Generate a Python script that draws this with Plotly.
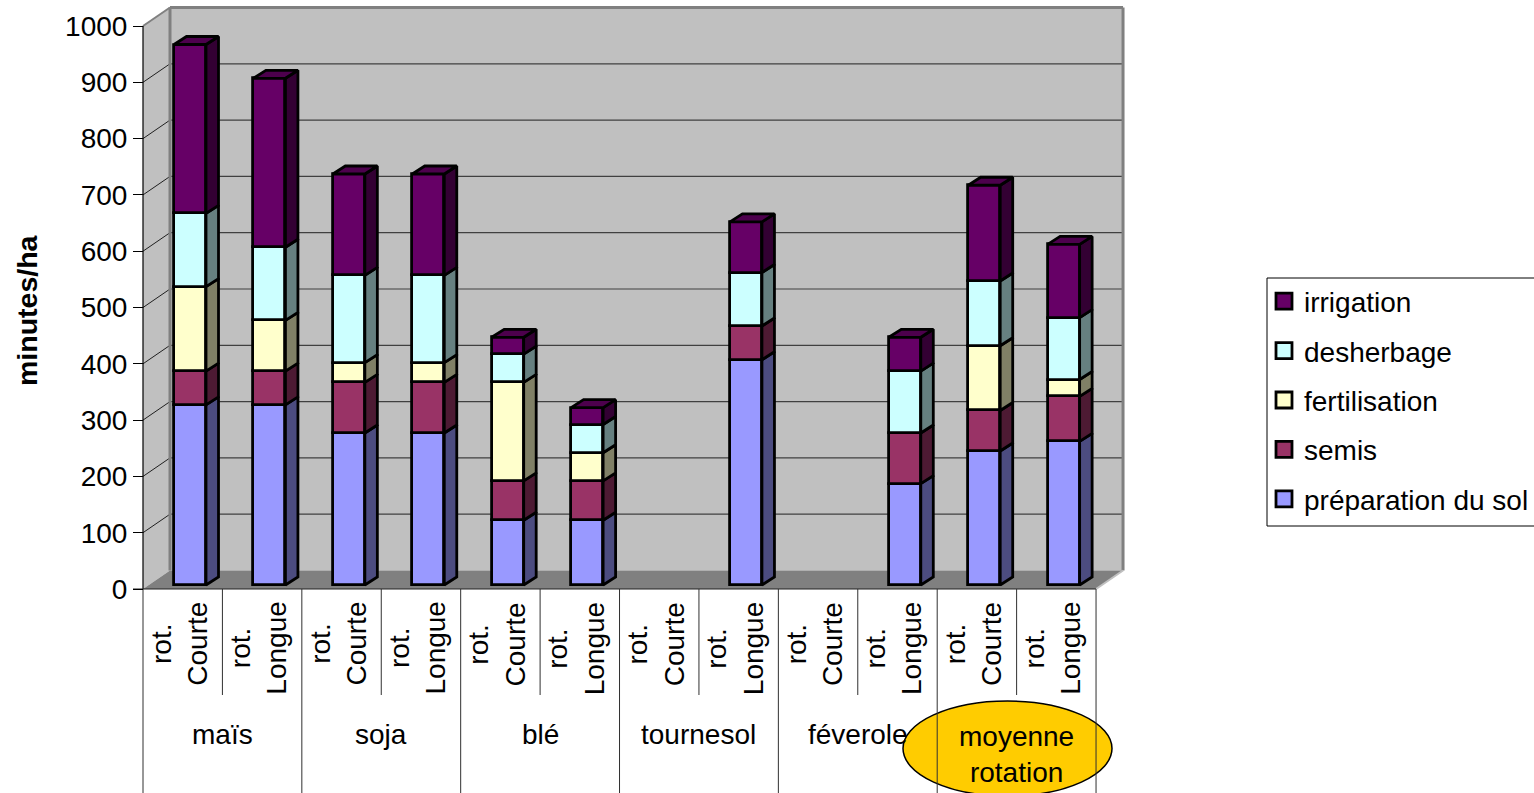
import plotly.graph_objects as go

# Chart data
groups = ["maïs", "soja", "blé", "tournesol", "féverole", "moyenne<br>rotation"]
rotations = ["rot.<br>Courte", "rot.<br>Longue"]
preparation = [320, 320, 270, 270, 115, 115, 0, 400, 0, 180, 238, 255]
semis = [60, 60, 90, 90, 70, 70, 0, 60, 0, 90, 72, 80]
fertilisation = [150, 90, 35, 35, 175, 50, 0, 0, 0, 0, 115, 30]
desherbage = [130, 130, 155, 155, 50, 50, 0, 95, 0, 110, 115, 110]
irrigation = [300, 300, 180, 180, 30, 30, 0, 90, 0, 60, 170, 130]

series = [
    ("préparation du sol", preparation, "#9999ff", "#4c4c80"),
    ("semis", semis, "#993366", "#4d1a33"),
    ("fertilisation", fertilisation, "#ffffcc", "#808066"),
    ("desherbage", desherbage, "#ccffff", "#668080"),
    ("irrigation", irrigation, "#660066", "#330033"),
]

# Page and axis calibration
W, H = 1534, 793
X0, X_STEP = 143.0, 79.42
Y0, Y_STEP = 589.0, 0.563
N = len(preparation)
FONT = "Liberation Sans, Arial, sans-serif"
SIZE = 28
EDGE = 2.8


def vx(px):
    return (px - X0) / X_STEP


def vy(px):
    return (Y0 - px) / Y_STEP


# Oblique depth of the chart box and of each column
BOX_DX, BOX_DY = 27 / X_STEP, 18.5 / Y_STEP
BAR_DX, BAR_DY = 12.5 / X_STEP, 8 / Y_STEP
BAR_W = 32 / X_STEP
BAR_SHIFT = 7.3 / X_STEP
BAR_LIFT = 4 / Y_STEP
TICKS = list(range(0, 1001, 100))
centers = [i + 0.5 + BAR_SHIFT for i in range(N)]
MAX_V = TICKS[-1]


def poly(points):
    return "M" + "L".join(f"{x},{y}" for x, y in points) + "Z"


def seg(x1, y1, x2, y2, color, width):
    return dict(type="line", x0=x1, y0=y1, x1=x2, y1=y2, xref="x", yref="y",
                layer="below", line=dict(color=color, width=width))


shapes = [
    # left wall, back wall, floor
    dict(type="path", xref="x", yref="y", layer="below", fillcolor="#c0c0c0", line=dict(width=0),
         path=poly([(0, 0), (0, MAX_V), (BOX_DX, MAX_V + BOX_DY), (BOX_DX, BOX_DY)])),
    dict(type="path", xref="x", yref="y", layer="below", fillcolor="#c0c0c0", line=dict(width=0),
         path=poly([(BOX_DX, BOX_DY), (BOX_DX, MAX_V + BOX_DY), (N + BOX_DX, MAX_V + BOX_DY), (N + BOX_DX, BOX_DY)])),
    dict(type="path", xref="x", yref="y", layer="below", fillcolor="#808080", line=dict(width=0),
         path=poly([(0, 0), (BOX_DX, BOX_DY), (N + BOX_DX, BOX_DY), (N, 0)])),
]
# Gridlines on the back wall, with their slanted run across the left wall
for t in TICKS[1:-1]:
    shapes.append(seg(0, t, BOX_DX, t + BOX_DY, "#202020", 1))
    shapes.append(seg(BOX_DX, t + BOX_DY, N + BOX_DX, t + BOX_DY, "#404040", 1.2))
# Box outline
shapes += [
    seg(0, MAX_V, BOX_DX, MAX_V + BOX_DY, "#808080", 2),
    seg(BOX_DX, BOX_DY, BOX_DX, MAX_V + BOX_DY, "#808080", 3),
    seg(BOX_DX, MAX_V + BOX_DY, N + BOX_DX, MAX_V + BOX_DY, "#808080", 3),
    seg(N + BOX_DX, BOX_DY, N + BOX_DX, MAX_V + BOX_DY, "#808080", 3),
    seg(N, 0, N + BOX_DX, BOX_DY, "#c0c0c0", 2),
]
# Highlight behind the last group label
shapes.append(dict(type="circle", xref="paper", yref="paper", layer="below",
                   x0=903 / W, x1=1112 / W, y0=1 - 796 / H, y1=1 - 701 / H,
                   fillcolor="#ffcc00", line=dict(color="#000000", width=1.5)))
# Axis lines and the two-level category dividers
bottom = vy(H + 2)
shapes.append(seg(0, 0, 0, MAX_V, "#000000", 1.2))
shapes.append(seg(vx(133), 0, N, 0, "#202020", 1.2))
for i in range(N + 1):
    end = bottom if i % 2 == 0 else vy(695)
    shapes.append(seg(i, 0, i, end, "#303030", 1))

fig = go.Figure()

# Column fronts
cum = [0] * N
for name, values, color, side in series:
    fig.add_bar(
        x=centers, y=[v if v else None for v in values],
        base=[c + BAR_LIFT for c in cum], width=BAR_W, name=name, showlegend=False,
        marker=dict(color=color, line=dict(color="#000000", width=EDGE)),
    )
    # Column side faces, built from the same stacked values
    sx, sy = [], []
    for i, v in enumerate(values):
        if not v:
            continue
        r = centers[i] + BAR_W / 2
        lo, hi = cum[i] + BAR_LIFT, cum[i] + v + BAR_LIFT
        sx += [r, r + BAR_DX, r + BAR_DX, r, r, None]
        sy += [lo, lo + BAR_DY, hi + BAR_DY, hi, lo, None]
    fig.add_scatter(x=sx, y=sy, mode="lines", fill="toself", fillcolor=side,
                    line=dict(color="#000000", width=EDGE), showlegend=False, hoverinfo="skip")
    cum = [c + v for c, v in zip(cum, values)]

# Top faces of the stacks
tx, ty = [], []
for i, total in enumerate(cum):
    if not total:
        continue
    l, r = centers[i] - BAR_W / 2, centers[i] + BAR_W / 2
    h = total + BAR_LIFT
    tx += [l, l + BAR_DX, r + BAR_DX, r, l, None]
    ty += [h, h + BAR_DY, h + BAR_DY, h, h, None]
fig.add_scatter(x=tx, y=ty, mode="lines", fill="toself", fillcolor="#4d004d",
                line=dict(color="#000000", width=EDGE), showlegend=False, hoverinfo="skip")

# Legend entries, top to bottom
for name, values, color, side in reversed(series):
    fig.add_scatter(x=[None], y=[None], mode="markers", name=name, legendgroup=name,
                    marker=dict(symbol="square", size=17, color=color,
                                line=dict(color="#000000", width=EDGE)))

annotations = []
for i in range(N):
    annotations.append(dict(
        x=i + 0.45, y=vy(600), xref="x", yref="y", text=rotations[i % 2], textangle=-90,
        showarrow=False, xanchor="center", yanchor="top", align="center",
        font=dict(family=FONT, size=SIZE, color="#000000"),
    ))
for g, label in enumerate(groups):
    two_lines = "<br>" in label
    annotations.append(dict(
        x=2 * g + 1, y=vy(754 if two_lines else 734), xref="x", yref="y", text=label,
        showarrow=False, xanchor="center", yanchor="middle", align="center",
        font=dict(family=FONT, size=SIZE, color="#000000"),
    ))
annotations.append(dict(
    x=vx(27), y=vy(310), xref="x", yref="y", text="<b>minutes/ha</b>", textangle=-90,
    showarrow=False, xanchor="center", yanchor="middle",
    font=dict(family=FONT, size=28.5, color="#000000"),
))

# Legend frame, open at the page edge
shapes.append(dict(type="rect", xref="paper", yref="paper", layer="below",
                   x0=1267 / W, x1=1540 / W, y0=1 - 526 / H, y1=1 - 278 / H,
                   line=dict(color="#000000", width=1), fillcolor="#ffffff"))

fig.update_layout(
    width=W, height=H, autosize=False,
    margin=dict(l=0, r=0, t=0, b=0),
    paper_bgcolor="#ffffff", plot_bgcolor="rgba(0,0,0,0)",
    barmode="overlay", bargap=0,
    shapes=shapes, annotations=annotations,
    font=dict(family=FONT, size=SIZE, color="#000000"),
    xaxis=dict(range=[vx(0), vx(W)], visible=False, domain=[0, 1], fixedrange=True),
    yaxis=dict(range=[vy(H), vy(0)], domain=[0, 1], anchor="free", position=X0 / W,
               tickmode="array", tickvals=TICKS, ticks="outside", ticklen=10, tickcolor="#000000",
               tickwidth=1, showgrid=False, zeroline=False, showline=False,
               tickfont=dict(family=FONT, size=SIZE, color="#000000"), fixedrange=True),
    legend=dict(x=1264 / W, y=1 - 276.5 / H, xanchor="left", yanchor="top",
                bgcolor="rgba(0,0,0,0)", borderwidth=0, tracegroupgap=10,
                itemclick=False, itemdoubleclick=False,
                font=dict(family=FONT, size=SIZE, color="#000000")),
    showlegend=True,
)

fig.write_html("out.html", config=dict(displayModeBar=False))
